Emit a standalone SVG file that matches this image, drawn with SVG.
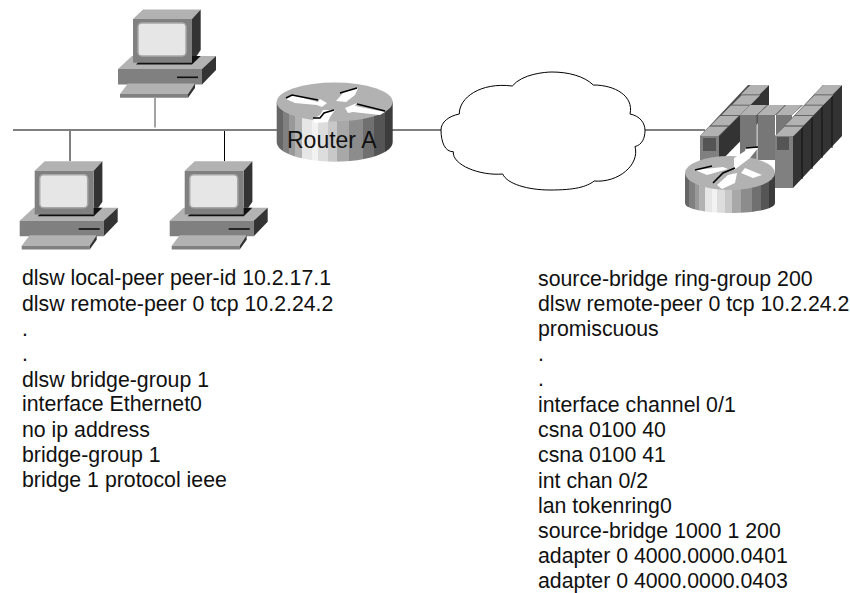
<svg xmlns="http://www.w3.org/2000/svg" width="850" height="593" viewBox="0 0 850 593">
<style>
text{font-family:"Liberation Sans",Arial,sans-serif;font-size:21.3px;fill:#111}
.ln{stroke:#000;stroke-width:1;fill:none}
.top{fill:#b2b2b2}.mid{fill:#808080}.dk{fill:#333}.blk{fill:#111}.gap{fill:#4d4d4d}.sq{fill:#555}.scr{fill:#e6e6e6;stroke:#a8a8a8;stroke-width:1.5}
.arr{fill:#fff;stroke:none}.ash{fill:none;stroke:#000;stroke-width:1.6}
</style>
<defs>
<linearGradient id="band" x1="0" x2="1" y1="0" y2="0">
<stop offset="0" stop-color="#666"/><stop offset=".05" stop-color="#666"/><stop offset=".05" stop-color="#808080"/><stop offset=".11" stop-color="#808080"/><stop offset=".11" stop-color="#999"/><stop offset=".16" stop-color="#999"/><stop offset=".16" stop-color="#b2b2b2"/><stop offset=".22" stop-color="#b2b2b2"/><stop offset=".22" stop-color="#e6e6e6"/><stop offset=".3" stop-color="#e6e6e6"/><stop offset=".3" stop-color="#f2f2f2"/><stop offset=".36" stop-color="#f2f2f2"/><stop offset=".36" stop-color="#ddd"/><stop offset=".44" stop-color="#ddd"/><stop offset=".44" stop-color="#c8c8c8"/><stop offset=".52" stop-color="#c8c8c8"/><stop offset=".52" stop-color="#a8a8a8"/><stop offset=".62" stop-color="#a8a8a8"/><stop offset=".62" stop-color="#8c8c8c"/><stop offset=".74" stop-color="#8c8c8c"/><stop offset=".74" stop-color="#707070"/><stop offset=".84" stop-color="#707070"/><stop offset=".84" stop-color="#555"/><stop offset=".93" stop-color="#555"/><stop offset=".93" stop-color="#3c3c3c"/><stop offset="1" stop-color="#3c3c3c"/>
</linearGradient>
<g id="pc">
<polygon class="top" points="133,19 143,9.5 200.7,9.5 192,19"/>
<polygon class="dk" points="192,19 200.7,9.5 200.7,50 192,62.7"/>
<polygon class="top" points="118,69 132,56 216,56 202,69"/>
<polygon class="blk" points="136,64.5 144,56 200.7,56 192,64.5"/>
<polygon class="mid" points="133,19 192,19 192,62.7 133,62.7"/>
<rect class="scr" x="138" y="23" width="48" height="33" rx="4"/>
<polygon class="mid" points="118,69 202,69 202,84.5 118,84.5"/>
<polygon class="dk" points="202,69 216,56 216,70 202,84.5"/>
<rect x="177" y="76.5" width="21" height="1.6" fill="#111"/>
<polygon class="top" points="128,83.5 195,83.5 188,94 120,94"/>
<polygon class="mid" points="120,94 188,94 188,97.7 120,97.7"/>
<polygon class="dk" points="188,94 195,83.5 195,88 188,97.7"/>
</g>
<polygon id="tile" class="top" points="0,0 9.500,-9.600 28,-9.600 18.500,0"/>
</defs>

<g id="connectors">
<line class="ln" x1="13" y1="130" x2="280" y2="130"/>
<line x1="155" y1="98" x2="155" y2="127.500" stroke="#666" stroke-width="1.2"/>
<line class="ln" x1="70" y1="131" x2="70" y2="161"/>
<line class="ln" x1="224.500" y1="131" x2="224.500" y2="161"/>
<line class="ln" x1="392" y1="130" x2="441" y2="130"/>
<line class="ln" x1="645" y1="130" x2="705" y2="130"/>
</g>

<g id="pc-top"><use href="#pc"/></g>
<g id="pc-left"><use href="#pc" x="-98.300" y="151.700"/></g>
<g id="pc-right"><use href="#pc" x="51.700" y="151.700"/></g>

<g id="router-a">
<path d="M276.700 102V142C276.700 153 302 161.700 334.700 161.700S392.700 153 392.700 142V102Z" fill="url(#band)"/>
<ellipse cx="334.700" cy="102" rx="58" ry="19.500" fill="#b2b2b2"/>
<polygon class="arr" points="286,99 292,95 318,102 320,99 327,103 322,107 317,105 295,103"/>
<polyline class="ash" points="286,98 292,95 318,100"/>
<polygon class="arr" points="336,101 343,93 340,93 358,88 355,95 346,102"/>
<polyline class="ash" points="340,93 357,88"/>
<polygon class="arr" points="345,108 357,103 355,106 385,112 380,115 353,112 348,113"/>
<polyline class="ash" points="357,104 385,111"/>
<polygon class="arr" points="313,119 320,115 323,110 335,110 330,117 328,122 315,123"/>
<polyline class="ash" points="313,118 320,118 324,113 334,110"/>
<text x="287" y="148" style="font-size:23px">Router A</text>
</g>

<g id="cloud">
<path class="ln" fill="#fff" d="M441 130C441 122 449 116 459.300 114C459 98 480 82 512.300 86C522 74 545 72 552 72C568 72 584 76 593.300 85C615 85 634 96 630 114C640 116 645 123 645 130.500C645 138 642 145 635 146.500C640 165 618 183 594.300 181C586 187 575 190 550 190C528 190 507 184 502.700 174C480 176 452 165 453.300 151.700C445 152 441 142 441 130Z"/>
</g>

<g id="mainframe">
<polygon class="dk" points="719,136 769,85 769,112 719,163"/>
<polygon class="gap" points="700,136 748,85 769,85 719,137"/>
<use href="#tile" x="700" y="136"/><use href="#tile" x="710.700" y="125.600"/><use href="#tile" x="721.400" y="115.200"/><use href="#tile" x="732.100" y="104.800"/><use href="#tile" x="741" y="94.600"/>
<polygon class="mid" points="700,136 719,136 719,165 700,165"/>
<rect class="sq" x="703" y="138" width="13" height="13"/>
<polygon class="gap" points="740,115 750,105 803,105 792,115"/>
<polygon fill="#777" points="740,115 756.700,115 756.700,160 740,160"/>
<polygon class="top" points="740,115 750,105 767,105 756.700,115"/>
<polygon fill="#777" points="757.500,115 775,115 775,160 757.500,160"/>
<polygon class="top" points="757.500,115 768,105 785,105 775,115"/>
<polygon fill="#777" points="776,115 792,115 792,160 776,160"/>
<polygon class="top" points="776,115 786,105 802,105 792,115"/>
<polygon class="dk" points="793,136 842,85 842,136 793,188"/>
<path d="M802 127V179M812 117V169M822 106V158M832 96V148" stroke="#111" stroke-width="1"/>
<polygon class="gap" points="775,136 823,85 842,85 793,137"/>
<use href="#tile" x="775" y="136"/><use href="#tile" x="785" y="125.600"/><use href="#tile" x="795" y="115.200"/><use href="#tile" x="805" y="104.800"/><use href="#tile" x="814" y="94.600"/>
<polygon class="mid" points="775,136 793,136 793,188 775,188"/>
<rect class="sq" x="777" y="137" width="12" height="13"/>
<path d="M685 173V203C685 209 705 213 730 213S775 209 775 203V173Z" fill="url(#band)"/>
<ellipse cx="730" cy="173" rx="45" ry="17" fill="#b2b2b2"/>
<polygon class="arr" points="695,170 723,167 728,169 707,175"/>
<polygon class="arr" points="734,158 745,151 746,148 758,148 750,158 734,170"/>
<polygon class="arr" points="717,185 728,175 737,173 735,183 722,189"/>
<polygon class="arr" points="745,168 762,175 753,178 741,173"/>
<polyline class="ash" points="713,183 723,173 735,168"/>
<polyline class="ash" points="695,170 712,166"/>
<polyline class="ash" points="746,148 758,147"/>
</g>

<g id="config-left">
<text x="22" y="285.300">dlsw local-peer peer-id 10.2.17.1</text>
<text x="22" y="310.700">dlsw remote-peer 0 tcp 10.2.24.2</text>
<text x="22" y="336">.</text>
<text x="22" y="361">.</text>
<text x="22" y="386.700">dlsw bridge-group 1</text>
<text x="22" y="411.300">interface Ethernet0</text>
<text x="22" y="436.700">no ip address</text>
<text x="22" y="462.300">bridge-group 1</text>
<text x="22" y="486.700">bridge 1 protocol ieee</text>
</g>
<g id="config-right">
<text x="538" y="285.700">source-bridge ring-group 200</text>
<text x="538" y="310.700">dlsw remote-peer 0 tcp 10.2.24.2</text>
<text x="538" y="335.700">promiscuous</text>
<text x="538" y="361">.</text>
<text x="538" y="386">.</text>
<text x="538" y="411.700">interface channel 0/1</text>
<text x="538" y="436.700">csna 0100 40</text>
<text x="538" y="462">csna 0100 41</text>
<text x="538" y="487.700">int chan 0/2</text>
<text x="538" y="512.700">lan tokenring0</text>
<text x="538" y="538">source-bridge 1000 1 200</text>
<text x="538" y="563.300">adapter 0 4000.0000.0401</text>
<text x="538" y="588.300">adapter 0 4000.0000.0403</text>
</g>
</svg>
